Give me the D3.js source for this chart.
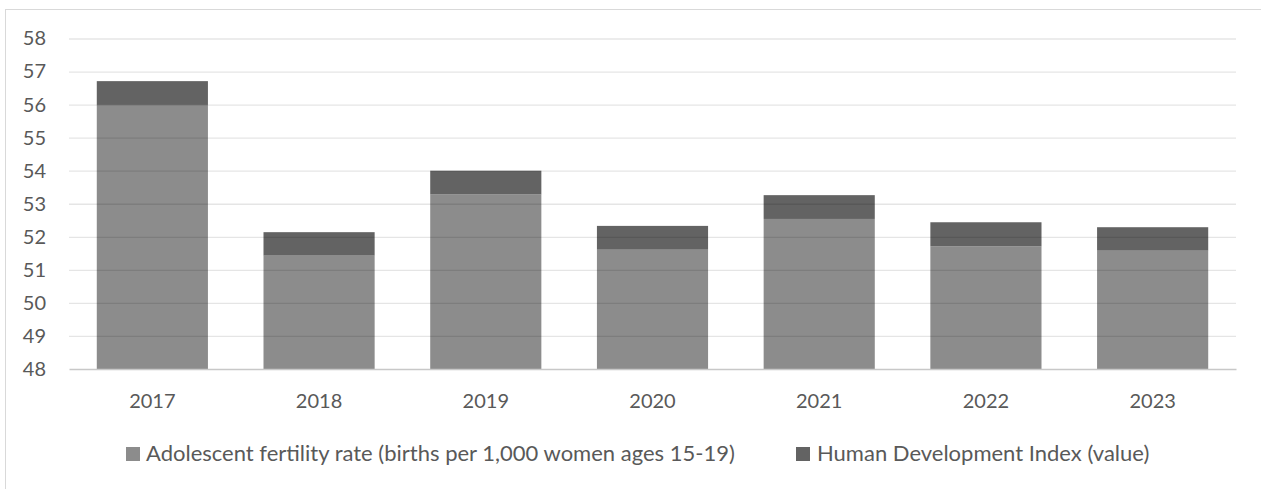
<!DOCTYPE html>
<html>
<head>
<meta charset="utf-8">
<script src="https://cdn.jsdelivr.net/npm/d3@7"></script>
<style>
  html, body { margin: 0; padding: 0; background: #fff; }
  svg { display: block; }
  text { font-family: Lato, "Open Sans", sans-serif; fill: #595959; }
</style>
</head>
<body>
<script>
const years = ["2017", "2018", "2019", "2020", "2021", "2022", "2023"];
const fertility = [55.99, 51.43, 53.28, 51.61, 52.54, 51.71, 51.58];
const hdi = [0.72, 0.71, 0.72, 0.72, 0.72, 0.73, 0.71];
const seriesNames = ["Adolescent fertility rate (births per 1,000 women ages 15-19)", "Human Development Index (value)"];
const yTicks = [48, 49, 50, 51, 52, 53, 54, 55, 56, 57, 58];

(function () {
const W = 1261, H = 489;
const colors = ["#8c8c8c", "#636363"];
const svg = d3.select("body").append("svg").attr("width", W).attr("height", H);

// outer frame (cropped at right/bottom)
svg.append("rect").attr("x", 5.5).attr("y", 9.5).attr("width", W + 20).attr("height", H + 20)
  .attr("fill", "none").attr("stroke", "#d9d9d9").attr("stroke-width", 1);

const pLeft = 69, pRight = 1236, pTop = 38.5, pBottom = 369;
const x = d3.scaleBand().domain(years).range([pLeft, pRight]).paddingInner(1/3).paddingOuter(1/6);
const y = d3.scaleLinear().domain([48, 58]).range([pBottom, pTop]);

const data = years.map((yr, i) => ({ year: yr, fertility: fertility[i], hdi: hdi[i] }));
const stack = d3.stack().keys(["fertility", "hdi"])(data);

const g = svg.append("g");
stack.forEach((s, si) => {
  g.selectAll(null).data(s).enter().append("rect")
    .attr("x", d => x(d.data.year))
    .attr("width", x.bandwidth())
    .attr("y", d => y(d[1]))
    .attr("height", d => y(Math.max(48, d[0])) - y(d[1]))
    .attr("fill", colors[si]);
});

// gridlines drawn on top (show faintly through bars)
const yAxis = d3.axisLeft(y).tickValues(yTicks).tickSize(-(pRight - pLeft)).tickFormat(d3.format("d"));
const ga = svg.append("g").attr("transform", `translate(${pLeft},0)`).call(yAxis);
ga.select(".domain").remove();
ga.selectAll(".tick line").attr("stroke", "rgba(0,0,0,0.1)").attr("stroke-width", 1.3);
ga.selectAll(".tick text").attr("x", -23).attr("font-size", 20).attr("fill", "#595959")
  .style("font-family", "Lato, 'Open Sans', sans-serif");
ga.selectAll(".tick").filter(d => d === 48).select("line").remove();

// x axis
const xAxis = d3.axisBottom(x).tickSize(0);
const gx = svg.append("g").attr("transform", `translate(0,${pBottom})`).call(xAxis);
gx.select(".domain").attr("stroke", "#c8c8c8").attr("stroke-width", 1.5);
gx.selectAll(".tick text").attr("y", 0).attr("dy", 0).attr("transform", "translate(0,39)")
  .attr("font-size", 20).attr("fill", "#595959").style("font-family", "Lato, 'Open Sans', sans-serif");

// legend
const legendItems = [
  { name: seriesNames[0], color: colors[0], sx: 126, tx: 146 },
  { name: seriesNames[1], color: colors[1], sx: 796, tx: 817 }
];
const lg = svg.append("g");
legendItems.forEach(it => {
  lg.append("rect").attr("x", it.sx).attr("y", 447).attr("width", 14).attr("height", 14).attr("fill", it.color);
  lg.append("text").attr("x", it.tx).attr("y", 461).attr("font-size", 22).text(it.name);
});
})();
</script>
</body>
</html>
